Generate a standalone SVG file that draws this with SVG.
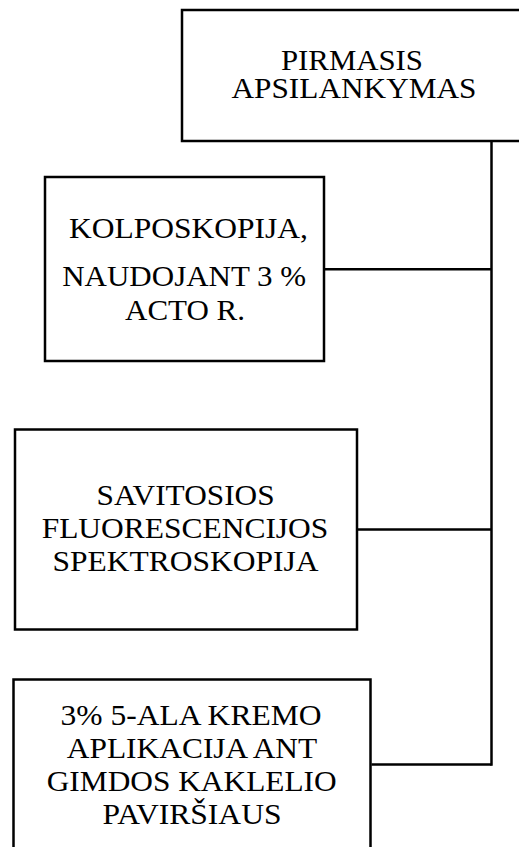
<svg xmlns="http://www.w3.org/2000/svg" width="519" height="847" viewBox="0 0 519 847">
<style>
.box{fill:#fff;stroke:#000;stroke-width:2.5}
.lbl{font-family:"Liberation Serif","Times New Roman",serif;font-size:30px;fill:#000;text-anchor:middle}
.conn{stroke:#000;stroke-width:2.5;fill:none}
</style>
<rect width="519" height="847" fill="#fff"/>
<g id="node-pirmasis">
<rect class="box" x="182" y="10" width="345" height="131"/>
<text class="lbl" x="352" y="69.5" textLength="142" lengthAdjust="spacingAndGlyphs">PIRMASIS</text>
<text class="lbl" x="354" y="98" textLength="245" lengthAdjust="spacingAndGlyphs">APSILANKYMAS</text>
</g>
<g id="node-kolposkopija">
<rect class="box" x="45" y="177" width="279" height="184"/>
<text class="lbl" x="188.5" y="238.3" textLength="239" lengthAdjust="spacingAndGlyphs">KOLPOSKOPIJA,</text>
<text class="lbl" x="184.2" y="285.5" textLength="244" lengthAdjust="spacingAndGlyphs">NAUDOJANT 3 %</text>
<text class="lbl" x="185" y="319.5" textLength="120" lengthAdjust="spacingAndGlyphs">ACTO R.</text>
</g>
<g id="node-spektroskopija">
<rect class="box" x="15" y="429.5" width="342" height="200"/>
<text class="lbl" x="185.6" y="505.3" textLength="178" lengthAdjust="spacingAndGlyphs">SAVITOSIOS</text>
<text class="lbl" x="185" y="538.3" textLength="286.7" lengthAdjust="spacingAndGlyphs">FLUORESCENCIJOS</text>
<text class="lbl" x="185.5" y="571.4" textLength="266" lengthAdjust="spacingAndGlyphs">SPEKTROSKOPIJA</text>
</g>
<g id="node-ala">
<rect class="box" x="13.5" y="679.5" width="357" height="200"/>
<text class="lbl" x="191" y="724.7" textLength="261" lengthAdjust="spacingAndGlyphs">3% 5-ALA KREMO</text>
<text class="lbl" x="192" y="757.5" textLength="250.5" lengthAdjust="spacingAndGlyphs">APLIKACIJA ANT</text>
<text class="lbl" x="191.7" y="790.8" textLength="290" lengthAdjust="spacingAndGlyphs">GIMDOS KAKLELIO</text>
<text class="lbl" x="192" y="824" textLength="179" lengthAdjust="spacingAndGlyphs">PAVIRŠIAUS</text>
</g>
<g id="connectors">
<line class="conn" x1="491.5" y1="141" x2="491.5" y2="765.7" stroke-width="3"/>
<line class="conn" x1="325" y1="269.3" x2="491.5" y2="269.3"/>
<line class="conn" x1="358" y1="529.5" x2="491.5" y2="529.5"/>
<line class="conn" x1="371.5" y1="764.5" x2="491.5" y2="764.5"/>
</g>
</svg>
